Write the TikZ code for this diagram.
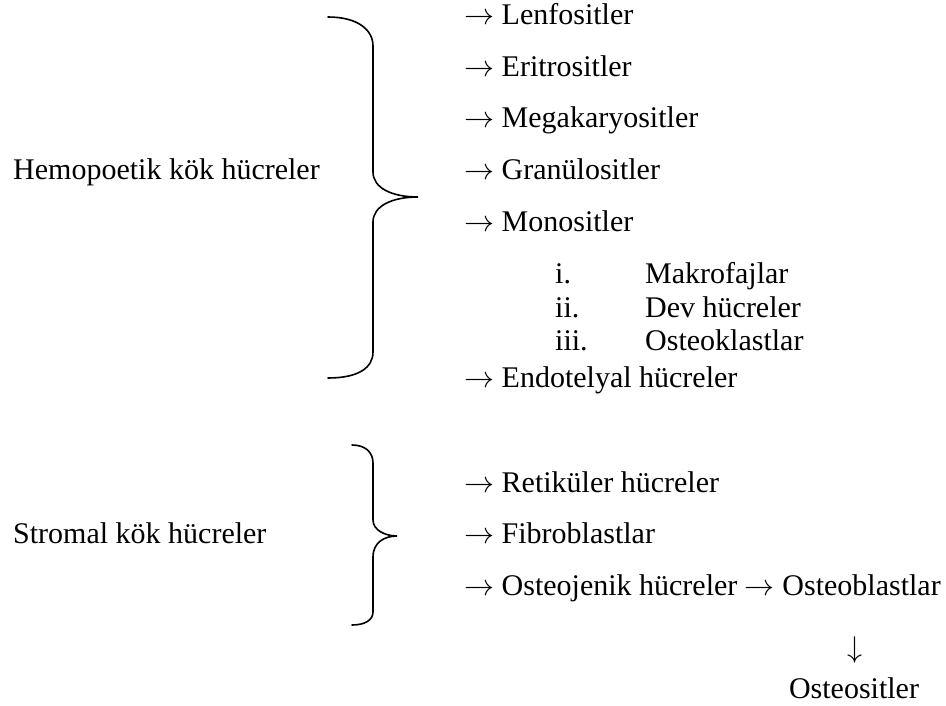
\RequirePackage{fix-cm}
\documentclass[tikz,border=0pt]{standalone}
\usepackage{fontspec}
\setmainfont{Liberation Serif}
\newcommand{\ra}{$\rightarrow$}

\begin{document}
\begin{tikzpicture}[x=1pt,y=-1pt,
  item/.style={anchor=base west,inner sep=0pt,font=\fontsize{30}{36}\selectfont},
  curl/.style={line width=1.6pt,line cap=round}
]
  \useasboundingbox (0,0) rectangle (946,706);
  % hemopoetic group
  \node[item] (hemo) at (13,180) {Hemopoetik kök hücreler};
  \draw[curl] (328,17) .. controls (358,17) and (373,30) .. (373,46) -- (373,172)
    .. controls (373,188) and (392,197) .. (418,197)
    .. controls (392,197) and (373,206) .. (373,222) -- (373,352)
    .. controls (373,368) and (358,378) .. (328,378);
  \node[item] (lenfo) at (464,25) {\ra{} Lenfositler};
  \node[item] (eritro) at (464,77) {\ra{} Eritrositler};
  \node[item] (mega) at (464,128) {\ra{} Megakaryositler};
  \node[item] (granu) at (464,180) {\ra{} Granülositler};
  \node[item] (mono) at (464,232) {\ra{} Monositler};
  \node[item] (n1) at (555,283) {i.};
  \node[item] (makro) at (645,283) {Makrofajlar};
  \node[item] (n2) at (555,317) {ii.};
  \node[item] (dev) at (645,317) {Dev hücreler};
  \node[item] (n3) at (555,350) {iii.};
  \node[item] (klast) at (645,350) {Osteoklastlar};
  \node[item] (endo) at (464,387) {\ra{} Endotelyal hücreler};
  % stromal group
  \node[item] (stroma) at (13,543) {Stromal kök hücreler};
  \draw[curl] (352,445) .. controls (365,445) and (373,452) .. (373,463) -- (373,520)
    .. controls (373,530) and (385,536) .. (397,536)
    .. controls (385,536) and (373,542) .. (373,557) -- (373,612)
    .. controls (373,620) and (365,625) .. (352,625);
  \node[item] (retik) at (464,492) {\ra{} Retiküler hücreler};
  \node[item] (fibro) at (464,543) {\ra{} Fibroblastlar};
  \node[item] (osteo) at (464,595) {\ra{} Osteojenik hücreler \ra{} Osteoblastlar};
  \node[item,anchor=base] (down) at (855,657) {$\downarrow$};
  \node[item,anchor=base] (osteosit) at (854,698) {Osteositler};
\end{tikzpicture}
\end{document}
